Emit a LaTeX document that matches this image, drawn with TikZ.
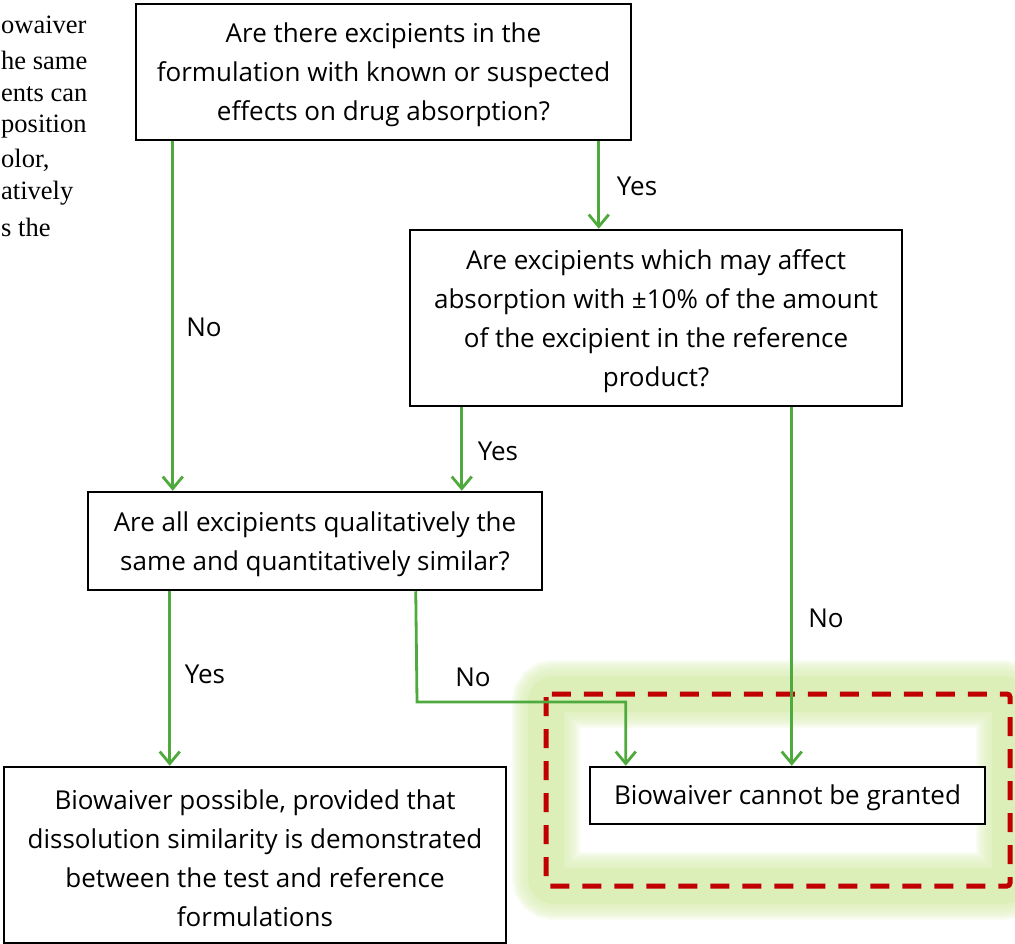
\documentclass[tikz,border=0pt]{standalone}
\usepackage{fontspec}
\setmainfont{Open Sans}
\newfontfamily\timesf{Liberation Serif}
\usetikzlibrary{arrows.meta}
\definecolor{arrgreen}{RGB}{78,170,60}
\definecolor{glowgreen}{RGB}{220,239,185}
\definecolor{dashred}{RGB}{192,0,0}
\tikzset{
  qbox/.style={draw=black, line width=2.5pt, fill=white, inner sep=0pt},
  qtext/.style={inner sep=0pt, align=center, font=\fontsize{26}{39}\selectfont},
  arr/.style={draw=arrgreen, line width=2.8pt, -{Straight Barb[length=12pt,width=20pt,line width=2.8pt]}},
  lbl/.style={font=\fontsize{26}{30}\selectfont, anchor=center},
  bgtext/.style={font=\timesf\fontsize{26.5}{30}\selectfont, anchor=west, inner sep=0pt},
  glow/.style={draw=glowgreen, rounded corners=8pt}
}
\begin{document}
\begin{tikzpicture}[x=1pt,y=-1pt]
\useasboundingbox (0,0) rectangle (1015,944);
% left background text
\node[bgtext] (t1) at (1,25) {owaiver};
\node[bgtext] (t2) at (1,60) {he same};
\node[bgtext] (t3) at (1,94) {ents can};
\node[bgtext] (t4) at (1,127) {position};
\node[bgtext] (t5) at (1,160) {olor,};
\node[bgtext] (t6) at (1,193) {atively};
\node[bgtext] (t7) at (1,227) {s the};
% glow around dashed box
\foreach \w in {68,64,...,40}{
  \draw[glow, line width=\w pt, opacity=0.2] (546,694) rectangle (1010,886);
}
\draw[glow, line width=36pt] (546,694) rectangle (1010,886);
\draw[dashred, line width=5pt, dash pattern=on 19pt off 13pt, rounded corners=3pt] (546,694) rectangle (1010,886);
% boxes
\node[qbox, minimum width=495pt, minimum height=136pt] (b1) at (383.5,72) {};
\node[qtext] (b1t) at ([yshift=-3pt]b1.center)
  {Are there excipients in the\\formulation with known or suspected\\effects on drug absorption?};
\node[qbox, minimum width=492pt, minimum height=176pt] (b2) at (656,318) {};
\node[qtext] (b2t) at ([yshift=-3pt]b2.center)
  {Are excipients which may affect\\absorption with ±10\% of the amount\\of the excipient in the reference\\product?};
\node[qbox, minimum width=454pt, minimum height=98pt] (b3) at (315,541) {};
\node[qtext] (b3t) at ([yshift=-3pt]b3.center)
  {Are all excipients qualitatively the\\same and quantitatively similar?};
\node[qbox, minimum width=502pt, minimum height=176pt] (b4) at (255,855) {};
\node[qtext] (b4t) at ([yshift=-3pt]b4.center)
  {Biowaiver possible, provided that\\dissolution similarity is demonstrated\\between the test and reference\\formulations};
\node[qbox, minimum width=395pt, minimum height=57pt] (b5) at (787.5,795.5) {};
\node[qtext] (b5t) at ([yshift=-2pt]b5.center) {Biowaiver cannot be granted};
% connectors
\draw[arr] ([xshift=38pt]b1.south west) -- ([xshift=86pt]b3.north west);
\draw[arr] ([xshift=464pt]b1.south west) -- ([xshift=190pt]b2.north west);
\draw[arr] ([xshift=53pt]b2.south west) -- ([xshift=375pt]b3.north west);
\draw[arr] ([xshift=383pt]b2.south west) -- ([xshift=203pt]b5.north west);
\draw[arr] ([xshift=83pt]b3.south west) -- ([xshift=167pt]b4.north west);
\coordinate (e1) at (417,702);
\draw[arr] ([xshift=329pt]b3.south west) -- (e1) -| ([xshift=37pt]b5.north west);
% labels
\node[lbl] (l1) at (204,327) {No};
\node[lbl] (l2) at (637,186) {Yes};
\node[lbl] (l3) at (498,451) {Yes};
\node[lbl] (l4) at (826,618) {No};
\node[lbl] (l5) at (205,674) {Yes};
\node[lbl] (l6) at (473,677) {No};
\end{tikzpicture}
\end{document}
